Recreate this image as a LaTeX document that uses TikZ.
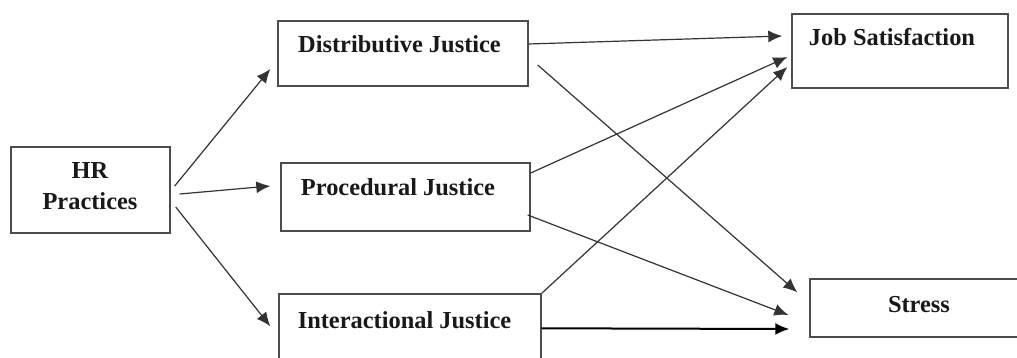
\documentclass[tikz,border=0pt]{standalone}
\usepackage{fontspec}
\setmainfont{Liberation Serif}
\usetikzlibrary{arrows.meta}
\begin{document}
\begin{tikzpicture}[x=0.5pt,y=-0.5pt,
  boxnode/.style={draw=black!70,line width=0.7pt,inner sep=0pt,fill=white},
  lbl/.style={font=\fontsize{12.2}{15.5}\selectfont\bfseries,inner sep=0pt,anchor=base,text=black!90},
  arr/.style={draw=black!80,line width=0.6pt,-{Latex[length=7pt,width=6pt]}},
  arrthick/.style={draw=black,line width=1pt,-{Latex[length=7pt,width=6pt]}}]
\useasboundingbox (0,0) rectangle (1017,358);
\clip (0,0) rectangle (1017,358);
\fill[white] (0,0) rectangle (1017,358);
% boxes
\node[boxnode,minimum width=79.5pt,minimum height=43pt] (hr) at (90.5,190) {};
\node[boxnode,minimum width=125pt,minimum height=32.5pt] (dist) at (403,53.5) {};
\node[boxnode,minimum width=124.5pt,minimum height=34pt] (proc) at (405.5,197) {};
\node[boxnode,minimum width=131pt,minimum height=43pt] (inter) at (410,337) {};
\node[boxnode,minimum width=108pt,minimum height=37pt] (js) at (900,51) {};
\node[boxnode,minimum width=110pt,minimum height=29pt] (stress) at (920,308) {};
% labels
\node[lbl] (hrt1) at (90,178) {HR};
\node[lbl] (hrt2) at (90,209) {Practices};
\node[lbl] (distt) at (399.5,53) {Distributive Justice};
\node[lbl] (proct) at (398,195) {Procedural Justice};
\node[lbl] (intert) at (404.5,328) {Interactional Justice};
\node[lbl] (jst) at (892,46) {Job Satisfaction};
\node[lbl] (stresst) at (919,312.5) {Stress};
% connectors
\draw[arr] ([shift={(4,-4)}]hr.east) -- ([shift={(-7,15.5)}]dist.west);
\draw[arr] ([shift={(9,4)}]hr.east) -- ([shift={(-10,-11)}]proc.west);
\draw[arr] ([shift={(5,17)}]hr.east) -- ([shift={(-8,33)}]inter.north west);
\draw[arr] ([shift={(0,-9.5)}]dist.east) -- ([shift={(-9,-15)}]js.west);
\draw[arr] ([shift={(9,11.5)}]dist.east) -- ([shift={(-12,14)}]stress.north west);
\draw[arr] ([shift={(0,-24)}]proc.east) -- ([shift={(-4,6)}]js.west);
\draw[arr] ([shift={(-3,18)}]proc.east) -- ([shift={(-21,7)}]stress.west);
\draw[arr] (inter.north east) -- ([shift={(-4,16)}]js.west);
\draw[arrthick] ([shift={(0,35)}]inter.north east) -- ([shift={(-20,21)}]stress.west);
\end{tikzpicture}
\end{document}
